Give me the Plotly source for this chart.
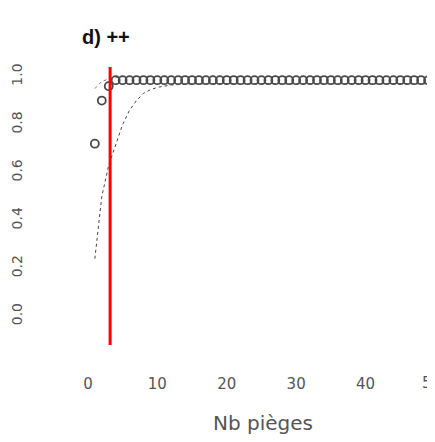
import plotly.graph_objects as go

# ---- data ----
x_points = list(range(1, 61))
y_points = [0.72, 0.90, 0.96] + [0.985] * 57

x_band = [1, 2, 3, 4, 5, 6, 7, 8, 9, 10, 12, 15, 20, 30, 40, 50, 60]
y_lower = [0.24, 0.50, 0.63, 0.72, 0.80, 0.86, 0.90, 0.93, 0.945, 0.955, 0.965, 0.97, 0.97, 0.97, 0.97, 0.97, 0.97]
y_upper = [0.95, 0.98, 0.99, 0.995, 1.0, 1.0, 1.0, 1.0, 1.0, 1.0, 1.0, 1.0, 1.0, 1.0, 1.0, 1.0, 1.0]

x_ticks = [0, 10, 20, 30, 40]
x_last_tick = 50
y_ticks = [0.0, 0.2, 0.4, 0.6, 0.8, 1.0]
y_ticklabels = ["0.0", "0.2", "0.4", "0.6", "0.8", "1.0"]
red_x = 3.2

title_text = "<b>d) ++</b>"
x_title = "Nb pièges"

FONT = "DejaVu Sans, Liberation Sans, Arial, sans-serif"
TICKCOL = "#555555"

# page body adds an 8px margin on every side; figure is sized so the page fits the window
W, H = 427, 426
L, R, T, B = 57, 0, 59, 89
PW, PH = W - L - R, H - T - B

fig = go.Figure()
fig.add_trace(go.Scatter(x=x_band, y=y_lower, mode="lines",
                         line=dict(color="#444444", width=1, dash="dot"),
                         showlegend=False, hoverinfo="skip"))
fig.add_trace(go.Scatter(x=x_band, y=y_upper, mode="lines",
                         line=dict(color="#777777", width=1, dash="dot"),
                         showlegend=False, hoverinfo="skip"))
fig.add_trace(go.Scatter(x=x_points, y=y_points, mode="markers",
                         marker=dict(symbol="circle-open", size=8, color="#4a4a4a",
                                     line=dict(width=1.8, color="#4a4a4a")),
                         showlegend=False))

fig.add_shape(type="line", xref="x", yref="paper", x0=red_x, x1=red_x, y0=0, y1=1,
              line=dict(color="#ff0000", width=3))

fig.update_layout(
    width=W, height=H,
    margin=dict(l=L, r=R, t=T, b=B),
    paper_bgcolor="white", plot_bgcolor="white",
    font=dict(family=FONT, color=TICKCOL, size=14),
    xaxis=dict(range=[-3.3, 50], tickvals=x_ticks, showgrid=False, zeroline=False,
               showline=False, ticks="", ticklabelstandoff=28, automargin=False,
               tickfont=dict(size=15, color=TICKCOL)),
    yaxis=dict(range=[-0.12, 1.04], tickvals=y_ticks, ticktext=y_ticklabels,
               showgrid=False, zeroline=False, showline=False, ticks="",
               tickangle=-90, ticklabelstandoff=39, automargin=False,
               tickfont=dict(size=14, color=TICKCOL)),
    annotations=[
        dict(text=title_text, xref="paper", yref="paper", x=(72 - L) / PW, y=1 + (T - 29) / PH,
             xanchor="left", yanchor="middle", showarrow=False,
             font=dict(size=20, color="#111111", family="Liberation Sans, Arial, sans-serif")),
        dict(text=x_title, xref="paper", yref="paper", x=(255 - L) / PW, y=-(415 - (T + PH)) / PH,
             xanchor="center", yanchor="middle", showarrow=False,
             font=dict(size=20, color=TICKCOL, family=FONT)),
        dict(text=str(x_last_tick), xref="paper", yref="paper", x=1, y=-(375 - (T + PH)) / PH,
             xanchor="left", xshift=-15, yanchor="middle", showarrow=False,
             font=dict(size=15, color=TICKCOL, family=FONT)),
    ],
)

fig.write_html("out.html")
